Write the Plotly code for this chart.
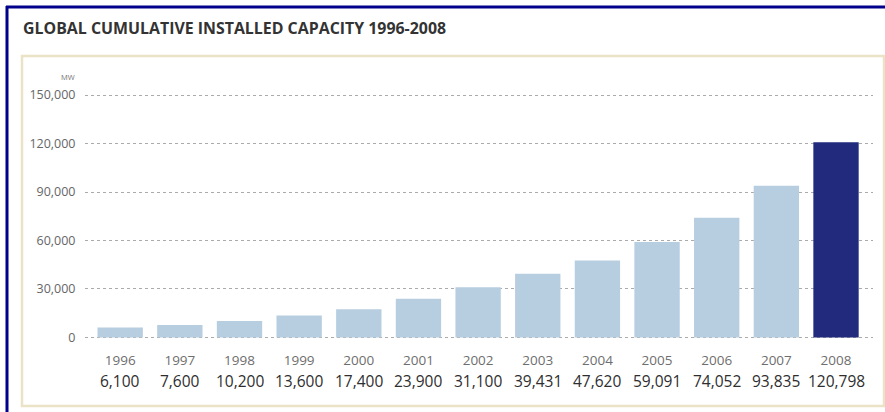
import plotly.graph_objects as go

years = ["1996", "1997", "1998", "1999", "2000", "2001", "2002",
         "2003", "2004", "2005", "2006", "2007", "2008"]
capacity = [6100, 7600, 10200, 13600, 17400, 23900, 31100,
            39431, 47620, 59091, 74052, 93835, 120798]
value_labels = ["6,100", "7,600", "10,200", "13,600", "17,400", "23,900", "31,100",
                "39,431", "47,620", "59,091", "74,052", "93,835", "120,798"]
y_ticks = [0, 30000, 60000, 90000, 120000, 150000]
y_tick_text = ["0", "30,000", "60,000", "90,000", "120,000", "150,000"]

LIGHT = "#b7cde0"
DARK = "#212a7c"
colors = [LIGHT] * (len(years) - 1) + [DARK]

W, H = 885, 412
L, R, T, B = 85, 12, 87, 73
pw, ph = W - L - R, H - T - B


def px(x):
    return (x - L) / pw


def py(y):
    return (H - B - y) / ph


fig = go.Figure()
fig.add_trace(go.Bar(x=list(range(len(years))), y=capacity, marker_color=colors,
                     marker_line_width=0, width=0.76, hoverinfo="skip"))

for i, lab in enumerate(value_labels):
    fig.add_annotation(x=i, y=py(381), xref="x", yref="paper", text=lab,
                       showarrow=False, xanchor="center", yanchor="middle",
                       font=dict(family="Open Sans", size=15.5, color="#2e2e2e"))

shapes = [
    # beige frame
    dict(type="rect", xref="paper", yref="paper", x0=px(22), x1=px(884), y0=py(406), y1=py(56),
         line=dict(color="#ebe3c6", width=2.5), layer="below"),
    # navy border
    dict(type="line", xref="paper", yref="paper", x0=px(7), x1=px(7), y0=py(6), y1=py(412),
         line=dict(color="#00008c", width=3)),
    dict(type="line", xref="paper", yref="paper", x0=px(6), x1=px(885), y0=py(7), y1=py(7),
         line=dict(color="#00008c", width=3)),
]

fig.add_annotation(x=px(21), y=py(28), xref="paper", yref="paper",
                   text="<b>GLOBAL CUMULATIVE INSTALLED CAPACITY 1996-2008</b>",
                   showarrow=False, xanchor="left", yanchor="middle",
                   font=dict(family="Open Sans", size=15.9, color="#333333"))
fig.add_annotation(x=px(77), y=py(77), xref="paper", yref="paper", text="MW",
                   showarrow=False, xanchor="right", yanchor="middle",
                   font=dict(family="Open Sans", size=7.5, color="#777777"))

fig.update_layout(
    width=W, height=H,
    margin=dict(l=L, r=R, t=T, b=B),
    paper_bgcolor="white", plot_bgcolor="white",
    showlegend=False,
    shapes=shapes,
    bargap=0.25,
    font=dict(family="Open Sans"),
)
fig.update_xaxes(range=[-0.59, 12.62], tickmode="array", tickvals=list(range(len(years))),
                 ticktext=years, showgrid=False, zeroline=False, showline=False,
                 ticks="outside", ticklen=9, tickcolor="rgba(0,0,0,0)",
                 tickfont=dict(family="Open Sans", size=13.5, color="#6e6e6e"))
fig.update_yaxes(range=[-1000, 155000], tickmode="array", tickvals=y_ticks, ticktext=y_tick_text,
                 showgrid=True, gridcolor="#ababab", griddash="dot", gridwidth=1,
                 zeroline=False, showline=False, ticks="outside", ticklen=6,
                 tickcolor="rgba(0,0,0,0)",
                 tickfont=dict(family="Open Sans", size=12.5, color="#666666"))

fig.write_html("out.html")
